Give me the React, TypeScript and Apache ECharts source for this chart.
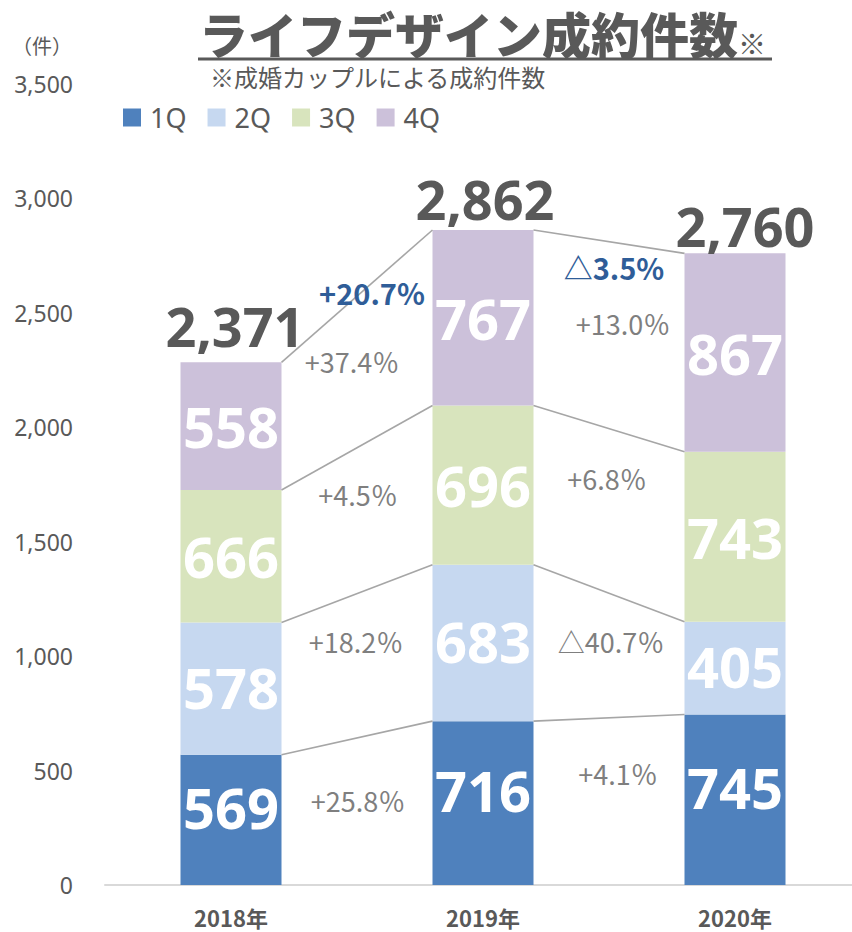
import React, { useEffect, useRef } from "react";
import * as echarts from "echarts";

// ---------- data ----------
const categories = ["2018年", "2019年", "2020年"];
const seriesNames = ["1Q", "2Q", "3Q", "4Q"];
const q1Values = [569, 716, 745];
const q2Values = [578, 683, 405];
const q3Values = [579, 696, 743]; // drawn heights (2018 label reads 666)
const q4Values = [558, 767, 867];
const q1Labels = ["569", "716", "745"];
const q2Labels = ["578", "683", "405"];
const q3Labels = ["666", "696", "743"];
const q4Labels = ["558", "767", "867"];
const totalLabels = ["2,371", "2,862", "2,760"];
const growthQ1 = ["+25.8％", "+4.1％"];
const growthQ2 = ["+18.2％", "△40.7％"];
const growthQ3 = ["+4.5％", "+6.8％"];
const growthQ4 = ["+37.4％", "+13.0％"];
const growthTotal = ["+20.7%", "△3.5%"];
const yTicks = [0, 500, 1000, 1500, 2000, 2500, 3000, 3500];

// ---------- layout / style ----------
const CANVAS_W = 870; // wider than the viewport: the plot area runs past the right edge
const COLORS = ["#4F81BD", "#C6D8F0", "#D8E4BD", "#CCC1DA"];
const LABEL_SHIFT = [-13, -2, 0, 0];
const BAR_WIDTH = 101;
const GRAY_TEXT = "#595959";
const PCT_GRAY = "#7F7F7F";
const HIGHLIGHT = "#2F5D98";
// pixel offsets for the growth labels [gap][level 0..4] (level 4 = total)
const GROWTH_OFFSETS = [
  [[1, -11], [-1, -24], [1, -26], [-5, -10], [15, -4]],
  [[9, -28], [2, -14], [-2, -32], [14, -12], [5, 25]],
];
const TOTAL_OFFSETS = [[4, -36], [2, -31], [10, -27]];

const valueArrays = [q1Values, q2Values, q3Values, q4Values];
const labelArrays = [q1Labels, q2Labels, q3Labels, q4Labels];
const growthArrays = [growthQ1, growthQ2, growthQ3, growthQ4, growthTotal];

const stacks = categories.map((_, i) => {
  const s = [0];
  valueArrays.forEach((arr) => s.push(s[s.length - 1] + arr[i]));
  return s;
});

export default function App() {
  const ref = useRef<HTMLDivElement>(null);

  useEffect(() => {
    if (!ref.current) return;
    document.documentElement.style.overflow = "hidden";
    document.body.style.overflow = "hidden";
    const chart = echarts.init(ref.current, null, { renderer: "svg" });

    const barSeries = seriesNames.map((name, k) => ({
      name,
      type: "bar",
      stack: "total",
      barWidth: BAR_WIDTH,
      data: valueArrays[k],
      itemStyle: { color: COLORS[k] },
      label: {
        show: true,
        position: "inside",
        offset: [0, LABEL_SHIFT[k]],
        formatter: (p: any) => labelArrays[k][p.dataIndex],
        color: "#FFFFFF",
        fontSize: 56,
        fontWeight: "bold",
        fontFamily: "Open Sans",
      },
      z: 2,
    }));

    const customSeries = {
      type: "custom",
      clip: false,
      z: 5,
      silent: true,
      data: categories.map((_, i) => [i, 0]),
      encode: { x: 0, y: 1 },
      renderItem: (params: any, api: any) => {
        const i = params.dataIndex;
        const children: any[] = [];
        const topPt = api.coord([i, stacks[i][4]]);
        children.push({
          type: "text",
          x: topPt[0] + TOTAL_OFFSETS[i][0],
          y: topPt[1] + TOTAL_OFFSETS[i][1],
          style: {
            text: totalLabels[i],
            fill: GRAY_TEXT,
            fontSize: 54,
            fontWeight: "bold",
            fontFamily: "Open Sans",
            align: "center",
            verticalAlign: "middle",
          },
        });
        if (i < categories.length - 1) {
          const half = BAR_WIDTH / 2;
          for (let k = 1; k <= 4; k++) {
            const a = api.coord([i, stacks[i][k]]);
            const b = api.coord([i + 1, stacks[i + 1][k]]);
            children.push({
              type: "line",
              shape: { x1: a[0] + half, y1: a[1], x2: b[0] - half, y2: b[1] },
              style: { stroke: "#A6A6A6", lineWidth: 1.6 },
            });
          }
          for (let lv = 0; lv <= 4; lv++) {
            let mid: number;
            if (lv < 4) {
              const lm = (stacks[i][lv] + stacks[i][lv + 1]) / 2;
              const rm = (stacks[i + 1][lv] + stacks[i + 1][lv + 1]) / 2;
              mid = (lm + rm) / 2;
            } else {
              mid = (stacks[i][4] + stacks[i + 1][4]) / 2;
            }
            const ca = api.coord([i, mid]);
            const cb = api.coord([i + 1, mid]);
            const off = GROWTH_OFFSETS[i][lv];
            const isTotal = lv === 4;
            children.push({
              type: "text",
              x: (ca[0] + cb[0]) / 2 + off[0],
              y: ca[1] + off[1],
              style: {
                text: growthArrays[lv][i],
                fill: isTotal ? HIGHLIGHT : PCT_GRAY,
                fontSize: isTotal ? 29 : 27,
                fontWeight: isTotal ? "bold" : "normal",
                fontFamily: "Noto Sans CJK JP",
                align: "center",
                verticalAlign: "middle",
              },
            });
          }
        }
        return { type: "group", children };
      },
    };

    chart.setOption({
      animation: false,
      backgroundColor: "#FFFFFF",
      title: {
        text: "{a|ライフデザイン成約件数}{b|※}",
        left: 199,
        top: 8,
        padding: 0,
        textStyle: {
          rich: {
            a: {
              fontSize: 49,
              fontWeight: 900,
              fontFamily: "Noto Sans CJK JP",
              color: GRAY_TEXT,
              lineHeight: 49,
            },
            b: {
              fontSize: 28,
              fontWeight: "bold",
              fontFamily: "Noto Sans CJK JP",
              color: GRAY_TEXT,
              lineHeight: 49,
              verticalAlign: "bottom",
            },
          },
        },
      },
      graphic: [
        {
          type: "line",
          shape: { x1: 198, y1: 59, x2: 772, y2: 59 },
          style: { stroke: GRAY_TEXT, lineWidth: 3 },
        },
        {
          type: "text",
          x: 210,
          y: 76,
          style: {
            text: "※成婚カップルによる成約件数",
            fill: GRAY_TEXT,
            fontSize: 24,
            fontFamily: "Noto Sans CJK JP",
            verticalAlign: "middle",
          },
        },
        {
          type: "text",
          x: 12,
          y: 45,
          style: {
            text: "（件）",
            fill: GRAY_TEXT,
            fontSize: 20,
            fontFamily: "Noto Sans CJK JP",
            verticalAlign: "middle",
          },
        },
      ],
      legend: {
        data: seriesNames,
        left: 123,
        top: 104,
        padding: 0,
        itemWidth: 18,
        itemHeight: 18,
        itemGap: 21,
        icon: "rect",
        textStyle: {
          color: GRAY_TEXT,
          fontSize: 27,
          lineHeight: 27,
          fontFamily: "Noto Sans",
          padding: [0, 0, 0, 4],
        },
      },
      grid: { left: 105, right: CANVAS_W - 861, top: 84, bottom: 47, containLabel: false },
      xAxis: {
        type: "category",
        data: categories,
        axisLine: { lineStyle: { color: "#D9D9D9", width: 2 } },
        axisTick: { show: false },
        axisLabel: {
          color: GRAY_TEXT,
          fontSize: 22,
          fontWeight: "bold",
          fontFamily: "Noto Sans CJK JP",
          margin: 21,
        },
      },
      yAxis: {
        type: "value",
        min: yTicks[0],
        max: yTicks[yTicks.length - 1],
        interval: yTicks[1] - yTicks[0],
        axisLine: { show: false },
        axisTick: { show: false },
        splitLine: { show: false },
        axisLabel: {
          color: GRAY_TEXT,
          fontSize: 23,
          fontFamily: "Noto Sans",
          margin: 32,
          formatter: (v: number) => v.toLocaleString("en-US"),
        },
      },
      series: [...barSeries, customSeries],
    });

    return () => chart.dispose();
  }, []);

  return (
    <div
      ref={ref}
      style={{ position: "fixed", left: 0, top: 0, width: CANVAS_W, height: 932, background: "#fff" }}
    />
  );
}
